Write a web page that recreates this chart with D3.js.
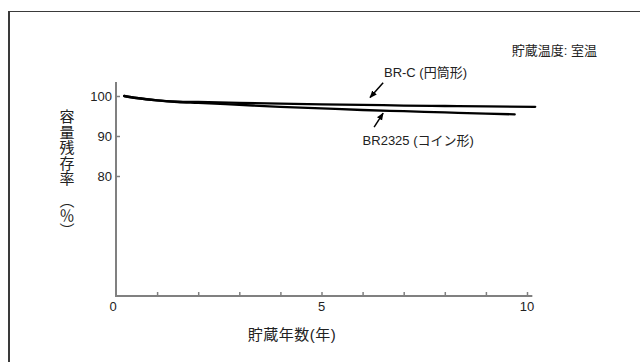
<!DOCTYPE html>
<html>
<head>
<meta charset="utf-8">
<script src="https://cdn.jsdelivr.net/npm/d3@7"></script>
<style>
  html, body { margin: 0; padding: 0; background: #fff; }
  svg { display: block; }
  text { font-family: "Liberation Sans", "Noto Sans CJK JP", sans-serif; fill: #222; }
</style>
</head>
<body>
<svg id="chart" width="640" height="362"></svg>
<script>
// Storage years and remaining capacity (%) for each battery type
const brcYears   = [0.2, 0.5, 1.0, 1.5, 2.0, 3.0, 4.0, 5.0, 6.0, 7.0, 8.0, 9.0, 10.2];
const brcValues  = [100, 99.5, 98.9, 98.6, 98.5, 98.3, 98.1, 97.9, 97.8, 97.6, 97.5, 97.4, 97.3];
const coinYears  = [0.2, 0.5, 1.0, 1.5, 2.0, 3.0, 4.0, 5.0, 6.0, 7.0, 8.0, 9.0, 9.7];
const coinValues = [100, 99.5, 98.9, 98.5, 98.3, 97.8, 97.3, 96.9, 96.5, 96.2, 95.9, 95.6, 95.4];

const xTicks = d3.range(0, 11);          // one tick per year
const xTickLabels = [0, 5, 10];
const yTickLabels = [100, 90, 80];

const seriesNames = ["BR-C (円筒形)", "BR2325 (コイン形)"];
const conditionLabel = "貯蔵温度: 室温";
const xTitle = "貯蔵年数(年)";
const yTitle = "容量残存率";
const yUnit = "（％）";

const svg = d3.select("#chart");

// outer frame (left and top edges visible)
svg.append("line").attr("x1", 9).attr("x2", 9).attr("y1", 11).attr("y2", 362)
  .attr("stroke", "#3a3a3a").attr("stroke-width", 2);
svg.append("line").attr("x1", 8).attr("x2", 640).attr("y1", 11.5).attr("y2", 11.5)
  .attr("stroke", "#3a3a3a").attr("stroke-width", 1.2);

const x = d3.scaleLinear().domain([0, 10]).range([116, 527]);
const y = d3.scaleLinear().domain([50, 100]).range([296, 96]);

const axisColor = "#808080";

// y axis line and inward ticks
svg.append("line")
  .attr("x1", x(0)).attr("x2", x(0))
  .attr("y1", y(103.5)).attr("y2", y(50) + 1)
  .attr("stroke", axisColor).attr("stroke-width", 2);

const yAxis = d3.axisRight(y).tickValues(yTickLabels).tickSize(4).tickFormat("");
const yG = svg.append("g").attr("transform", `translate(${x(0)},0)`).call(yAxis);
yG.select(".domain").remove();
yG.selectAll(".tick line").attr("stroke", axisColor).attr("stroke-width", 1.5);

svg.selectAll(".ylab").data(yTickLabels).join("text")
  .attr("class", "ylab")
  .attr("x", x(0) - 4)
  .attr("y", d => y(d) + 5)
  .attr("text-anchor", "end")
  .attr("font-size", 13)
  .text(d => d);

// x axis line and inward ticks
svg.append("line")
  .attr("x1", x(0) - 1).attr("x2", x(10.13))
  .attr("y1", y(50)).attr("y2", y(50))
  .attr("stroke", axisColor).attr("stroke-width", 2);

const xAxis = d3.axisTop(x).tickValues(xTicks.slice(1)).tickSize(4).tickFormat("");
const xG = svg.append("g").attr("transform", `translate(0,${y(50)})`).call(xAxis);
xG.select(".domain").remove();
xG.selectAll(".tick line").attr("stroke", axisColor).attr("stroke-width", 1.5);

svg.selectAll(".xlab").data(xTickLabels).join("text")
  .attr("class", "xlab")
  .attr("x", d => x(d) - (d === 0 ? 3 : 0))
  .attr("y", y(50) + 15)
  .attr("text-anchor", "middle")
  .attr("font-size", 13)
  .text(d => d);

// capacity curves
const line = d3.line().x(d => x(d[0])).y(d => y(d[1])).curve(d3.curveMonotoneX);
[[brcYears, brcValues], [coinYears, coinValues]].forEach(([xs, vs]) => {
  svg.append("path")
    .datum(xs.map((v, i) => [v, vs[i]]))
    .attr("d", line)
    .attr("fill", "none")
    .attr("stroke", "#000")
    .attr("stroke-width", 2.3)
    .attr("stroke-linecap", "round");
});

// arrowheads for the labels
svg.append("defs").append("marker")
  .attr("id", "head").attr("viewBox", "0 0 10 10")
  .attr("refX", 9).attr("refY", 5)
  .attr("markerWidth", 5).attr("markerHeight", 5)
  .attr("orient", "auto")
  .append("path").attr("d", "M0,1 L10,5 L0,9 Z").attr("fill", "#000");

const arrows = [
  { from: [6.5, 103.3], to: [6.18, 99.6] },
  { from: [6.28, 92.2], to: [6.5, 95.7] }
];
svg.selectAll(".arrow").data(arrows).join("line")
  .attr("class", "arrow")
  .attr("x1", d => x(d.from[0])).attr("y1", d => y(d.from[1]))
  .attr("x2", d => x(d.to[0])).attr("y2", d => y(d.to[1]))
  .attr("stroke", "#000").attr("stroke-width", 1.5)
  .attr("marker-end", "url(#head)");

const seriesLabelPos = [[6.52, 104.8], [6.0, 87.8]];
svg.selectAll(".slab").data(seriesNames).join("text")
  .attr("class", "slab")
  .attr("x", (d, i) => x(seriesLabelPos[i][0]))
  .attr("y", (d, i) => y(seriesLabelPos[i][1]))
  .attr("font-size", 13)
  .text(d => d);

// storage condition note
svg.append("text")
  .attr("x", 597).attr("y", 55)
  .attr("text-anchor", "end")
  .attr("font-size", 13)
  .text(conditionLabel);

// axis titles
svg.append("text")
  .attr("x", 292).attr("y", 340)
  .attr("text-anchor", "middle")
  .attr("font-size", 15)
  .attr("letter-spacing", 0.5)
  .text(xTitle);

svg.append("text")
  .attr("x", 66).attr("y", 109)
  .attr("font-size", 15)
  .attr("letter-spacing", 0.5)
  .style("writing-mode", "vertical-rl")
  .text(yTitle);

svg.append("text")
  .attr("x", 66).attr("y", 193)
  .attr("font-size", 15)
  .style("writing-mode", "vertical-rl")
  .text(yUnit);
</script>
</body>
</html>
